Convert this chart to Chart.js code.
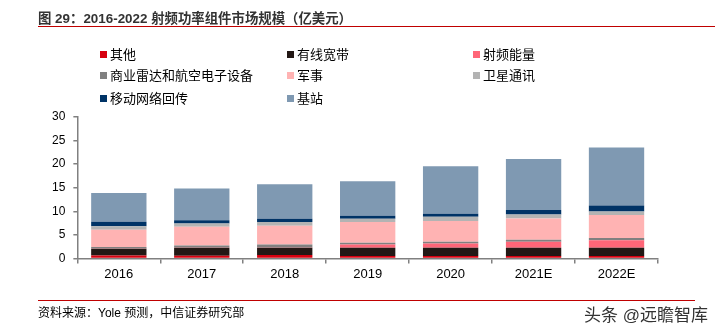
<!DOCTYPE html>
<html>
<head>
<meta charset="utf-8">
<script src="https://cdn.jsdelivr.net/npm/chart.js@4.4.0/dist/chart.umd.min.js"></script>
<style>
  body { margin: 0; background: #fff; }
  #wrap { position: relative; width: 719px; height: 333px; overflow: hidden;
          font-family: "Liberation Sans", "Noto Sans CJK SC", sans-serif; }
  #chart { position: absolute; left: 0; top: 0; }
  .title { position: absolute; left: 38px; top: 7px; font-size: 13.4px; color: #333; font-weight: bold; white-space: nowrap; }
  .rule { position: absolute; height: 1px; background: #c00000; }
  .leg { position: absolute; font-size: 13px; color: #000; white-space: nowrap; line-height: 16px; }
  .leg i { display: inline-block; width: 7px; height: 7px; margin-right: 3px; vertical-align: 1px; }
  .src { position: absolute; left: 38px; top: 303px; font-size: 12px; color: #000; }
  .mark { position: absolute; left: 584px; top: 301px; font-size: 17px; color: #333; white-space: nowrap; }
</style>
</head>
<body>
<div id="wrap">
  <canvas id="chart" width="719" height="333"></canvas>
  <div class="title">图 29：2016-2022 射频功率组件市场规模（亿美元）</div>
  <div class="rule" style="left:38px; top:26px; width:677px;"></div>
  <div id="legend"></div>
  <div class="rule" style="left:38px; top:300px; width:657px;"></div>
  <div class="src">资料来源：Yole 预测，中信证券研究部</div>
  <div class="mark">头条 @远瞻智库</div>
</div>
<script>
// categories and series (亿美元)
const years = ['2016', '2017', '2018', '2019', '2020', '2021E', '2022E'];
const other = [0.6, 0.57, 0.7, 0.5, 0.5, 0.5, 0.5];
const broadband = [1.45, 1.7, 1.56, 1.77, 1.77, 1.77, 1.77];
const rfEnergy = [0.05, 0.05, 0.05, 0.7, 0.9, 1.28, 1.56];
const radar = [0.3, 0.4, 0.64, 0.35, 0.35, 0.43, 0.5];
const military = [3.7, 4.0, 4.0, 4.4, 4.4, 4.5, 4.9];
const satellite = [0.7, 0.7, 0.78, 0.7, 0.9, 0.85, 0.7];
const backhaul = [0.95, 0.7, 0.7, 0.64, 0.64, 0.92, 1.28];
const baseStation = [6.1, 6.7, 7.3, 7.3, 10.1, 10.85, 12.3];
const yTicks = [0, 5, 10, 15, 20, 25, 30];

const series = [
    { label: '其他', data: other, color: '#d7000f' },
    { label: '有线宽带', data: broadband, color: '#231815' },
    { label: '射频能量', data: rfEnergy, color: '#ff6678' },
    { label: '商业雷达和航空电子设备', data: radar, color: '#808080' },
    { label: '军事', data: military, color: '#ffb3b3' },
    { label: '卫星通讯', data: satellite, color: '#b3b3b3' },
    { label: '移动网络回传', data: backhaul, color: '#003366' },
    { label: '基站', data: baseStation, color: '#7f99b2' }
];

// legend, 3 columns
const legendCols = [100, 287, 473];
const legendRows = [47, 68, 91];
const legendBox = document.getElementById('legend');
series.forEach(function (s, i) {
    const el = document.createElement('div');
    el.className = 'leg';
    el.style.left = legendCols[i % 3] + 'px';
    el.style.top = legendRows[Math.floor(i / 3)] + 'px';
    el.innerHTML = '<i style="background:' + s.color + '"></i>' + s.label;
    legendBox.appendChild(el);
});

const axisColor = '#808080';
const fontFamily = '"Liberation Sans", "Noto Sans CJK SC", sans-serif';

new Chart(document.getElementById('chart'), {
    type: 'bar',
    data: {
        labels: years,
        datasets: series.map(function (s) {
            return {
                label: s.label,
                data: s.data,
                backgroundColor: s.color,
                borderWidth: 0,
                barPercentage: 0.667,
                categoryPercentage: 1.0
            };
        })
    },
    options: {
        responsive: false,
        animation: false,
        layout: { padding: { left: 44, right: 61, top: 117, bottom: 48 } },
        plugins: { legend: { display: false }, tooltip: { enabled: false } },
        scales: {
            x: {
                stacked: true,
                grid: { drawOnChartArea: false, drawTicks: true, tickLength: 5, color: axisColor, lineWidth: 1.5 },
                border: { color: axisColor, width: 1.5 },
                ticks: { color: '#000', font: { family: fontFamily, size: 13 }, padding: 3 }
            },
            y: {
                stacked: true,
                min: 0,
                max: 30,
                afterBuildTicks: function (axis) {
                    axis.ticks = yTicks.map(function (v) { return { value: v }; });
                },
                grid: { drawOnChartArea: false, drawTicks: true, tickLength: 4, color: axisColor, lineWidth: 1.5 },
                border: { color: axisColor, width: 1.5 },
                ticks: { color: '#000', font: { family: fontFamily, size: 12 }, padding: 8 }
            }
        }
    }
});
</script>
</body>
</html>
